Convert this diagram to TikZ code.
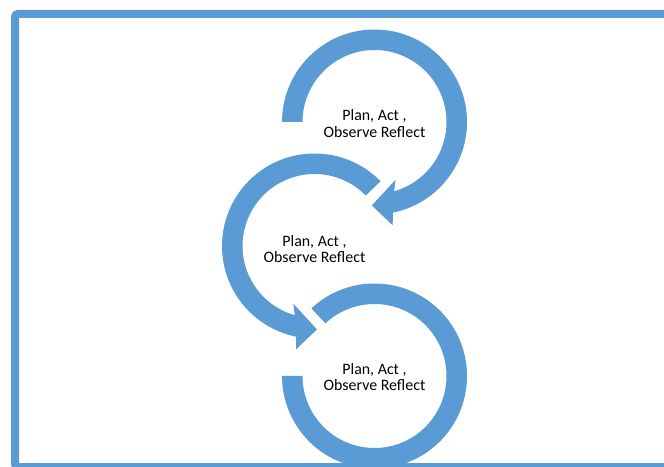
\documentclass[tikz,border=0pt]{standalone}
\usepackage{fontspec}
\setmainfont{Carlito}
\usetikzlibrary{calc}
\definecolor{ringblue}{HTML}{5B9BD5}
\tikzset{
  ring/.style={fill=ringblue, draw=none},
  cyctext/.style={font=\fontsize{15.9}{16}\selectfont, text=black, inner sep=0pt, anchor=base},
  frameline/.style={draw=ringblue, line width=8pt, rounded corners=3pt},
}
\begin{document}
\begin{tikzpicture}[x=1pt,y=1pt]
\useasboundingbox (0,0) rectangle (664,466);
\clip (0,0) rectangle (664,466);
\fill[white] (0,0) rectangle (664,466);

% outer frame (runs past the right and bottom edges)
\draw[frameline] (15,-1) rectangle (720,452);

% ring centres
\coordinate (c1) at (374.5,344);
\coordinate (c2) at (314.5,220);
\coordinate (c3) at (374.5,90);

% top ring: clockwise arrow from the left end
\fill[ring] ($(c1)+(180:92.5)$) arc[start angle=180,end angle=-78.6,radius=92.5]
  -- ($(c1)+(-80:105)$) -- ($(c1)+(-91.8:83.5)$) -- ($(c1)+(-70:61.5)$)
  -- ($(c1)+(-74.2:72)$) arc[start angle=-74.2,end angle=180,radius=72] -- cycle;

% middle ring: anticlockwise arrow from the upper right
\fill[ring] ($(c2)+(44.5:92.5)$) arc[start angle=44.5,end angle=258.5,radius=92.5]
  -- ($(c2)+(259.9:105)$) -- ($(c2)+(271.7:83.5)$) -- ($(c2)+(249.9:61.5)$)
  -- ($(c2)+(254.1:72)$) arc[start angle=254.1,end angle=44.5,radius=72] -- cycle;

% bottom ring: open arc without a head
\fill[ring] ($(c3)+(133:92.5)$) arc[start angle=133,end angle=-180,radius=92.5]
  -- ($(c3)+(180:72)$) arc[start angle=-180,end angle=133,radius=72] -- cycle;

% labels
\node[cyctext] (t1a) at ($(c1)+(0,1)$) {Plan, Act ,};
\node[cyctext] (t1b) at ($(c1)+(0,-15.5)$) {Observe Reflect};
\node[cyctext] (t2a) at ($(c2)+(0,-0.5)$) {Plan, Act ,};
\node[cyctext] (t2b) at ($(c2)+(0,-16.5)$) {Observe Reflect};
\node[cyctext] (t3a) at ($(c3)+(0,1.5)$) {Plan, Act ,};
\node[cyctext] (t3b) at ($(c3)+(0,-14.5)$) {Observe Reflect};
\end{tikzpicture}
\end{document}
